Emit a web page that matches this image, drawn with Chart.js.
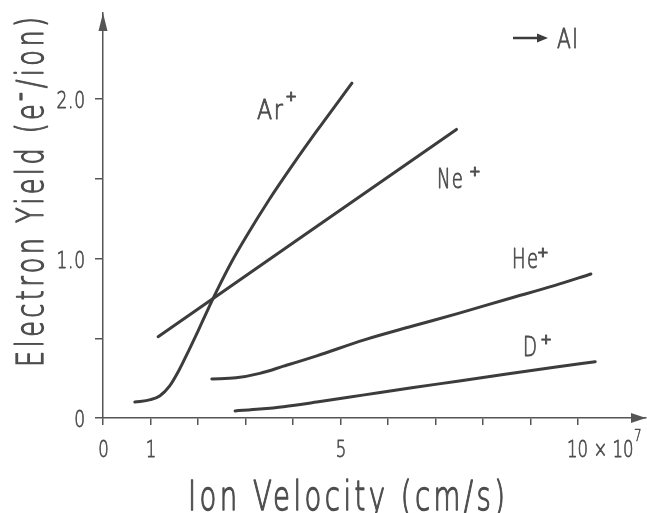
<!DOCTYPE html>
<html><head><meta charset="utf-8">
<script src="https://cdn.jsdelivr.net/npm/chart.js@4.4.1/dist/chart.umd.min.js"></script>
<style>html,body{margin:0;padding:0;background:#fff;overflow:hidden}#wrap{width:647px;height:513px}</style>
</head><body><div id="wrap"><canvas id="c" width="647" height="513"></canvas></div>
<script>
// ---- data (velocity in 10^7 cm/s, yield in electrons/ion) ----
const arX = [0.67, 1.0, 1.2, 1.4, 1.6, 1.8, 2.0, 2.2, 2.4, 2.7, 3.0, 3.5, 4.0, 4.5, 5.24];
const arY = [0.10, 0.115, 0.14, 0.20, 0.30, 0.42, 0.545, 0.675, 0.80, 0.975, 1.13, 1.37, 1.59, 1.80, 2.10];
const neX = [1.16, 7.44];
const neY = [0.51, 1.81];
const heX = [2.29, 2.8, 3.3, 3.8, 4.5, 5.5, 6.5, 7.5, 8.5, 9.5, 10.27];
const heY = [0.245, 0.252, 0.28, 0.325, 0.39, 0.49, 0.575, 0.658, 0.745, 0.83, 0.903];
const dX = [2.78, 3.3, 3.8, 4.5, 5.5, 6.5, 7.5, 8.5, 9.5, 10.36];
const dY = [0.044, 0.056, 0.071, 0.10, 0.145, 0.19, 0.232, 0.276, 0.318, 0.353];
const seriesNames = ['Ar', 'Ne', 'He', 'D'];
const targetName = 'Al';
const xTicks = [0, 1, 2, 3, 4, 5, 6, 7, 8, 9, 10];
const xTickLabels = ['0', '1', '5', '10'];
const xTickLabelValues = [0, 1, 5, 10];
const xExponent = '7';
const yTicks = [0, 0.5, 1.0, 1.5, 2.0];
const yTickLabels = ['0', '1.0', '2.0'];
const yTickLabelValues = [0, 1, 2];
const xTitle = 'Ion Velocity (cm/s)';
const yTitle = 'Electron Yield (e\u207B/ion)';
// label anchors in data units (left, baseline) and "+" centres
const labelAnchors = [[3.24, 1.875], [7.03, 1.442], [8.61, 0.940], [8.84, 0.389]];
const plusAnchors = [[3.96, 1.985], [7.83, 1.515], [9.26, 1.010], [9.33, 0.462]];
const labelWidths = [26, 26, 26, 14];

const LINE = '#3c3c3c', AXIS = '#555', TEXT = '#4d4d4d';
const FONT = '"DejaVu Sans"';

function pts(xs, ys) { return xs.map((x, i) => ({x: x, y: ys[i]})); }

function txt(ctx, s, x, y, size, opt) {
  opt = opt || {};
  ctx.save();
  ctx.font = (opt.weight || '200') + ' ' + size + 'px ' + FONT;
  ctx.fillStyle = opt.color || TEXT;
  ctx.strokeStyle = opt.color || TEXT;
  ctx.lineWidth = opt.stroke === undefined ? 1.0 : opt.stroke;
  ctx.lineJoin = 'round';
  ctx.textBaseline = opt.baseline || 'alphabetic';
  ctx.textAlign = 'left';
  if (opt.ls) ctx.letterSpacing = opt.ls + 'px';
  ctx.translate(x, y);
  if (opt.rot) ctx.rotate(opt.rot);
  const w = ctx.measureText(s).width - (opt.ls || 0);
  const sx = opt.width ? opt.width / w : (opt.sx || 1);
  ctx.scale(sx, 1);
  let ox = 0;
  if (opt.align === 'center') ox = -w / 2; else if (opt.align === 'right') ox = -w;
  ctx.fillText(s, ox, 0);
  if (ctx.lineWidth > 0) ctx.strokeText(s, ox, 0);
  ctx.restore();
  return w * sx;
}

const deco = {
  id: 'deco',
  afterDraw(chart) {
    const ctx = chart.ctx, xs = chart.scales.x, ys = chart.scales.y, a = chart.chartArea;
    ctx.save();
    ctx.fillStyle = AXIS;
    // y arrow
    ctx.beginPath();
    ctx.moveTo(a.left, a.top); ctx.lineTo(a.left - 4.5, a.top + 18); ctx.lineTo(a.left + 4.5, a.top + 18); ctx.closePath(); ctx.fill();
    // x arrow
    ctx.beginPath();
    ctx.moveTo(a.right, a.bottom); ctx.lineTo(a.right - 15, a.bottom - 5); ctx.lineTo(a.right - 15, a.bottom + 5); ctx.closePath(); ctx.fill();
    ctx.restore();

    // y tick labels
    yTickLabels.forEach((t, i) => {
      const py = ys.getPixelForValue(yTickLabelValues[i]);
      txt(ctx, t, 85, py + 9, 23, {align: 'right', sx: 0.74, ls: 1, stroke: 0.8});
    });
    // x tick labels
    xTickLabels.forEach((t, i) => {
      const v = xTickLabelValues[i];
      const px = xs.getPixelForValue(v);
      if (i === xTickLabels.length - 1) {
        const w = txt(ctx, t + ' \u00D7 10', px - 11, 457, 23, {sx: 0.72, stroke: 0.8});
        txt(ctx, xExponent, px - 11 + w + 0.5, 441, 15, {sx: 0.8, stroke: 0.6});
      } else {
        txt(ctx, t, px + 0.5, 457, 23, {align: 'center', sx: 0.72, stroke: 0.8});
      }
    });
    // axis titles
    txt(ctx, xTitle, 188, 510, 40, {width: 317, ls: 5, stroke: 1.3});
    txt(ctx, yTitle, 43, 367, 37, {rot: -Math.PI / 2, width: 350, ls: 5, stroke: 1.3});

    // series labels
    seriesNames.forEach((n, i) => {
      const lx = xs.getPixelForValue(labelAnchors[i][0]);
      const ly = ys.getPixelForValue(labelAnchors[i][1]);
      txt(ctx, n, lx, ly, 26, {width: labelWidths[i], ls: 2, stroke: 0.9});
      const px = xs.getPixelForValue(plusAnchors[i][0]);
      const py = ys.getPixelForValue(plusAnchors[i][1]);
      txt(ctx, '+', px, py, 14, {align: 'center', weight: 'normal', stroke: 0.9});
    });

    // target label with arrow
    ctx.save();
    ctx.strokeStyle = LINE; ctx.fillStyle = LINE; ctx.lineWidth = 2.5;
    ctx.beginPath(); ctx.moveTo(513, 38); ctx.lineTo(540, 38); ctx.stroke();
    ctx.beginPath(); ctx.moveTo(548, 38); ctx.lineTo(537, 33.5); ctx.lineTo(537, 42.5); ctx.closePath(); ctx.fill();
    ctx.restore();
    txt(ctx, targetName, 557, 48, 27, {width: 21, ls: 2, stroke: 0.9});
  }
};

function ds(data) {
  return {data: data, borderColor: LINE, borderWidth: 3, pointRadius: 0, fill: false,
          cubicInterpolationMode: 'monotone', borderCapStyle: 'round'};
}

new Chart(document.getElementById('c'), {
  type: 'line',
  data: {datasets: [ds(pts(arX, arY)), ds(pts(neX, neY)), ds(pts(heX, heY)), ds(pts(dX, dY))]},
  options: {
    responsive: false, animation: false, devicePixelRatio: 1,
    layout: {padding: {top: 13, right: 1, left: 0, bottom: 0}},
    plugins: {legend: {display: false}, tooltip: {enabled: false}},
    scales: {
      x: {type: 'linear', min: 0, max: 11.43,
          afterBuildTicks: s => { s.ticks = xTicks.map(v => ({value: v})); },
          afterFit: s => { s.height = 95; },
          ticks: {display: false},
          grid: {drawOnChartArea: false, drawTicks: true, tickLength: 7, color: AXIS, lineWidth: 1.5},
          border: {display: true, color: AXIS, width: 1.5}},
      y: {type: 'linear', min: 0, max: 2.54,
          afterBuildTicks: s => { s.ticks = yTicks.map(v => ({value: v})); },
          afterFit: s => { s.width = 103; },
          ticks: {display: false},
          grid: {drawOnChartArea: false, drawTicks: true, tickLength: 8, color: AXIS, lineWidth: 1.5},
          border: {display: true, color: AXIS, width: 1.5}}
    }
  },
  plugins: [deco]
});
</script></body></html>
